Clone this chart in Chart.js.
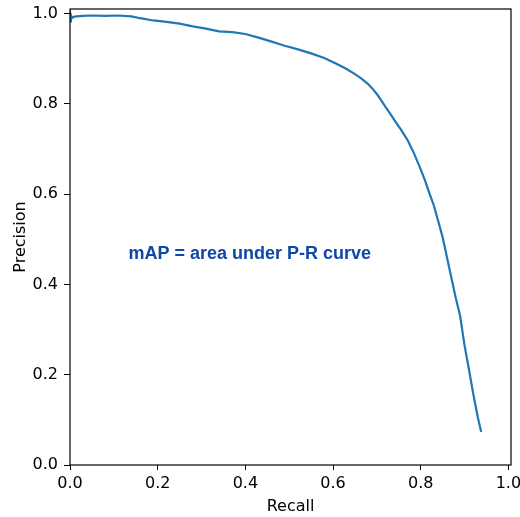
<!DOCTYPE html>
<html>
<head>
<meta charset="utf-8">
<script src="https://cdn.jsdelivr.net/npm/chart.js@4"></script>
<style>
  html, body { margin: 0; padding: 0; background: #fff; }
  #wrap { width: 520px; height: 517px; }
</style>
</head>
<body>
<div id="wrap"><canvas id="pr_chart"></canvas></div>
<script>
const recall = [0.0, 0.002, 0.004, 0.008, 0.015, 0.03, 0.05, 0.08, 0.11, 0.14, 0.16, 0.19, 0.22, 0.25, 0.28, 0.31, 0.34, 0.37, 0.40, 0.43, 0.46, 0.49, 0.52, 0.55, 0.58, 0.61, 0.63, 0.65, 0.665, 0.68, 0.69, 0.70, 0.71, 0.72, 0.73, 0.74, 0.755, 0.77, 0.785, 0.80, 0.81, 0.82, 0.83, 0.84, 0.85, 0.86, 0.87, 0.88, 0.89, 0.90, 0.91, 0.92, 0.93, 0.938]
const precision = [0.983, 0.997, 0.990, 0.993, 0.994, 0.995, 0.996, 0.995, 0.996, 0.994, 0.990, 0.985, 0.982, 0.978, 0.972, 0.967, 0.961, 0.959, 0.955, 0.947, 0.938, 0.929, 0.921, 0.912, 0.902, 0.888, 0.878, 0.866, 0.856, 0.844, 0.834, 0.822, 0.808, 0.793, 0.779, 0.764, 0.743, 0.720, 0.690, 0.655, 0.630, 0.602, 0.575, 0.540, 0.505, 0.460, 0.415, 0.370, 0.330, 0.265, 0.212, 0.157, 0.107, 0.073]
const tick_values = [0, 0.2, 0.4, 0.6, 0.8, 1.0]

const note_text = 'mAP = area under P-R curve'
const note_pos = { x: 0.41, y: 0.468 }

const pr_chart = document.querySelector('#pr_chart')

const frame_plugin = {
    id: 'frame',
    afterDraw(chart) {
        const { ctx, chartArea, scales } = chart
        ctx.save()
        ctx.strokeStyle = '#000'
        ctx.lineWidth = 1.2
        ctx.strokeRect(chartArea.left, chartArea.top, chartArea.right - chartArea.left, chartArea.bottom - chartArea.top)
        ctx.fillStyle = '#0d47a8'
        ctx.font = 'bold 18px "Liberation Sans", Arial, sans-serif'
        ctx.textAlign = 'center'
        ctx.textBaseline = 'middle'
        ctx.fillText(note_text, scales.x.getPixelForValue(note_pos.x), scales.y.getPixelForValue(note_pos.y))
        ctx.restore()
    }
}

const tick_font = { family: '"DejaVu Sans", sans-serif', size: 16 }

new Chart(pr_chart, {
    type: 'scatter',
    data: {
        datasets: [{
            data: recall.map((r, i) => ({ x: r, y: precision[i] })),
            showLine: true,
            borderColor: '#1f77b4',
            borderWidth: 2.2,
            pointRadius: 0,
            tension: 0
        }]
    },
    options: {
        responsive: true,
        maintainAspectRatio: false,
        animation: false,
        layout: { padding: { left: 0, right: 9, top: 9, bottom: 0 } },
        plugins: { legend: false, tooltip: { enabled: false } },
        scales: {
            x: {
                min: 0,
                max: 1.006,
                afterBuildTicks: axis => { axis.ticks = tick_values.map(v => ({ value: v })) },
                afterFit: axis => { axis.height = 52; axis.paddingLeft = 0; axis.paddingRight = 0 },
                ticks: {
                    color: '#000',
                    font: tick_font,
                    padding: 4,
                    maxRotation: 0,
                    callback: v => v.toFixed(1)
                },
                grid: { drawOnChartArea: false, tickLength: 5, tickColor: '#000', tickWidth: 1 },
                border: { display: false },
                title: { display: true, text: 'Recall', color: '#000', font: tick_font, padding: { top: 1, bottom: 1 } }
            },
            y: {
                min: 0,
                max: 1.0104,
                afterBuildTicks: axis => { axis.ticks = tick_values.map(v => ({ value: v })) },
                afterFit: axis => { axis.width = 70; axis.paddingTop = 0; axis.paddingBottom = 0 },
                ticks: {
                    color: '#000',
                    font: tick_font,
                    padding: 6,
                    callback: v => v.toFixed(1)
                },
                grid: { drawOnChartArea: false, tickLength: 6, tickColor: '#000', tickWidth: 1 },
                border: { display: false },
                title: { display: true, text: 'Precision', color: '#000', font: tick_font, padding: { top: 11, bottom: 11 } }
            }
        }
    },
    plugins: [frame_plugin]
})
</script>
</body>
</html>
